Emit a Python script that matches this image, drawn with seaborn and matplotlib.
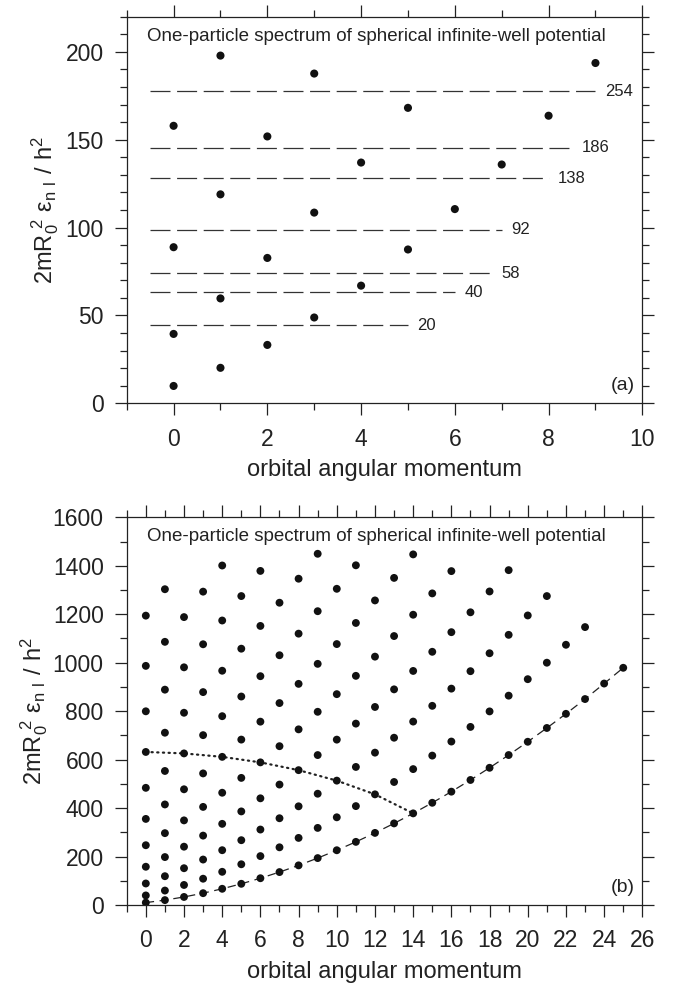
import numpy as np
import pandas as pd
import seaborn as sns
import matplotlib
matplotlib.use("Agg")
import matplotlib.pyplot as plt
from matplotlib.ticker import MultipleLocator

# Panel (a): lowest levels, 2mR0^2 e_nl / h^2 vs l
l_a = [0, 0, 0, 0, 1, 1, 1, 1, 2, 2, 2, 3, 3, 3, 4, 4, 5, 5, 6, 7, 8, 9]
e_a = [9.87, 39.48, 88.83, 157.91, 20.19, 59.68, 118.90, 197.86,
       33.22, 82.72, 151.86, 48.83, 108.52, 187.64, 66.95, 137.00,
       87.53, 168.13, 110.52, 135.89, 163.65, 193.65]

# shell gaps (dashed lines) with magic numbers
magic = [20, 40, 58, 92, 138, 186, 254]
gap_e = [44.4, 63.2, 74.0, 98.9, 128.0, 145.3, 177.7]
gap_end = [5.0, 6.0, 6.8, 7.0, 8.0, 8.5, 9.0]

# Panel (b): levels for each l (n = 1, 2, ...)
levels_b = [
    [9.87, 39.48, 88.83, 157.91, 246.74, 355.31, 483.61, 631.65, 799.44, 986.96, 1194.22],
    [20.19, 59.68, 118.90, 197.86, 296.56, 414.99, 553.17, 711.08, 888.73, 1086.12, 1303.25],
    [33.22, 82.72, 151.85, 240.70, 349.28, 477.59, 625.64, 793.42, 980.95, 1188.21],
    [48.83, 108.52, 187.64, 286.41, 404.89, 543.09, 701.02, 878.68, 1076.08, 1293.22],
    [66.95, 137.00, 226.19, 334.94, 463.34, 611.45, 779.28, 966.83, 1174.12, 1401.13],
    [87.53, 168.13, 267.48, 386.25, 524.62, 682.66, 860.40, 1057.86, 1275.03],
    [110.52, 201.85, 311.45, 440.31, 588.68, 756.68, 944.36, 1151.73, 1378.80],
    [135.89, 238.12, 358.08, 497.08, 655.45, 833.40, 1030.77, 1247.52],
    [163.60, 276.92, 407.33, 556.55, 724.93, 912.67, 1119.87, 1346.63],
    [193.65, 318.22, 459.28, 618.80, 797.39, 995.26, 1212.57, 1449.51],
    [226.0, 362.0, 513.3, 682.5, 870.2, 1076.9, 1305.0],
    [260.6, 408.2, 569.8, 748.6, 945.8, 1164.0, 1402.0],
    [297.6, 456.7, 628.8, 817.3, 1025.0, 1257.0],
    [336.8, 507.7, 690.4, 890.0, 1110.0, 1350.0],
    [378.2, 560.9, 757.0, 966.0, 1198.0, 1447.0],
    [421.9, 616.6, 822.0, 1045.0, 1286.0],
    [467.8, 674.6, 893.0, 1126.0, 1378.0],
    [516.0, 735.0, 965.0, 1208.0],
    [566.3, 799.0, 1039.0, 1294.0],
    [618.9, 864.0, 1115.0, 1382.0],
    [673.7, 932.0, 1195.0],
    [730.6, 1000.0, 1275.0],
    [789.0, 1074.0],
    [850.0, 1147.0],
    [914.0],
    [979.0],
]
# dotted line: states with 2n + l = 16
dot_l = [0, 2, 4, 6, 8, 10, 12, 14]
dot_n = [8, 7, 6, 5, 4, 3, 2, 1]

title = "One-particle spectrum of spherical infinite-well potential"
xlab = "orbital angular momentum"
ylab = r"$\mathregular{2mR_0^{\ 2}\ \varepsilon_{n\ l}\ /\ h^2}$"

sns.set_style("ticks")
plt.rcParams["font.family"] = ["Liberation Sans", "DejaVu Sans"]
plt.rcParams["lines.scale_dashes"] = False
ink = "#222222"

df_a = pd.DataFrame({"l": l_a, "e": e_a})
rows = []
for l, col in enumerate(levels_b):
    for n, e in enumerate(col, start=1):
        rows.append((l, n, e))
df_b = pd.DataFrame(rows, columns=["l", "n", "e"])
lowest = df_b[df_b["n"] == 1]
dotted = pd.DataFrame({"l": dot_l, "n": dot_n}).merge(df_b, on=["l", "n"])

fig = plt.figure(figsize=(6.78, 9.88), dpi=100)
ax_a = fig.add_axes([0.1869, 0.5918, 0.7605, 0.3913])
ax_b = fig.add_axes([0.1869, 0.0840, 0.7605, 0.3924])


def style_axes(ax, xmax, ymax, xmaj, ymaj, ymin_step, tag, ypad):
    ax.set_xlim(-1, xmax)
    ax.set_ylim(0, ymax)
    ax.xaxis.set_major_locator(MultipleLocator(xmaj))
    ax.xaxis.set_minor_locator(MultipleLocator(1))
    ax.yaxis.set_major_locator(MultipleLocator(ymaj))
    ax.yaxis.set_minor_locator(MultipleLocator(ymin_step))
    ax.tick_params(which="both", direction="out", top=True, right=True,
                   color=ink, width=0.9, labelsize=16.5, labelcolor=ink)
    ax.tick_params(which="major", length=8.6)
    ax.tick_params(which="minor", length=5)
    ax.tick_params(axis="x", pad=9)
    ax.tick_params(axis="y", pad=8)
    for sp in ax.spines.values():
        sp.set_linewidth(0.9)
        sp.set_color(ink)
    ax.set_xlabel(xlab, fontsize=17, color=ink, labelpad=6)
    ax.set_ylabel(ylab, fontsize=17, color=ink, labelpad=ypad)
    ax.text(0.04, 0.95, title, transform=ax.transAxes, fontsize=13.5,
            color=ink, ha="left", va="center")
    ax.text(0.985, 0.045, tag, transform=ax.transAxes, fontsize=14,
            color=ink, ha="right", va="center")


# (a)
for m, e, xe in zip(magic, gap_e, gap_end):
    ax_a.plot([-0.5, xe], [e, e], color="#333333", lw=0.9,
              dashes=(14.4, 4.75), zorder=1)
    ax_a.text(xe + 0.2, e, str(m), fontsize=12, color=ink,
              ha="left", va="center")
sns.scatterplot(data=df_a, x="l", y="e", ax=ax_a, color="#111111", s=34,
                edgecolor="none", zorder=3)
style_axes(ax_a, 10, 220, 2, 50, 10, "(a)", 3)

# (b)
ax_b.plot(lowest["l"], lowest["e"], color="#222222", lw=0.9,
          dashes=(6, 4), zorder=1)
ax_b.plot(dotted["l"], dotted["e"], color="#222222", lw=1.6,
          dashes=(0.9, 3.2), dash_capstyle="round", zorder=1)
sns.scatterplot(data=df_b, x="l", y="e", ax=ax_b, color="#111111", s=32,
                edgecolor="none", zorder=3)
style_axes(ax_b, 26, 1600, 2, 200, 100, "(b)", 2)

fig.savefig("out.png", dpi=100)
